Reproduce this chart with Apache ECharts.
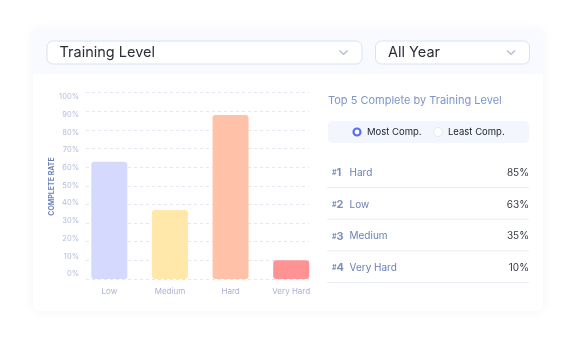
<!DOCTYPE html>
<html><head><meta charset="utf-8">
<script src="https://cdn.jsdelivr.net/npm/echarts@6/dist/echarts.min.js"></script>
<style>html,body{margin:0;padding:0;background:#fff}#c{width:576px;height:345px}</style>
</head><body><div id="c"></div>
<script>
const categories = ['Low', 'Medium', 'Hard', 'Very Hard'];
const rates = [63, 37, 88, 10];
const barColors = ['#d4d9fd', '#ffe8aa', '#ffc2a8', '#ff9394'];
const yTicks = ['0%', '10%', '20%', '30%', '40%', '50%', '60%', '70%', '80%', '90%', '100%'];
const rankNames = ['Hard', 'Low', 'Medium', 'Very Hard'];
const rankValues = ['85%', '63%', '35%', '10%'];
const filterLabels = ['Training Level', 'All Year'];
const toggleLabels = ['Most Comp.', 'Least Comp.'];
const panelTitle = 'Top 5 Complete by Training Level';
const yAxisName = 'COMPLETE RATE';

const F = 'Inter, "Noto Sans", sans-serif';
const chart = echarts.init(document.getElementById('c'), null, {renderer: 'canvas'});

const g = [];
// card
g.push({type:'rect', shape:{x:33,y:30,width:510,height:281,r:6}, style:{fill:'#fff', shadowBlur:10, shadowColor:'rgba(120,140,200,0.10)'}, z:-10});
g.push({type:'rect', shape:{x:33,y:30,width:510,height:44,r:[6,6,0,0]}, style:{fill:'#f8faff'}, z:-9});
// dropdowns
const dd = [[47,41,315,23],[375.5,41,154,23]];
dd.forEach((d,i)=>{
  g.push({type:'rect', shape:{x:d[0],y:d[1],width:d[2],height:d[3],r:6}, style:{fill:'#fff', stroke:'#d7e1f7', lineWidth:1}});
  g.push({type:'text', x:d[0]+12.5, y:d[1]+d[3]/2+0.5, style:{text:filterLabels[i], fill:'#2b2f3a', font:'400 14.5px '+F, verticalAlign:'middle'}});
  const cx = d[0]+d[2]-18.5, cy = d[1]+d[3]/2;
  g.push({type:'polyline', shape:{points:[[cx-4,cy-2],[cx,cy+2],[cx+4,cy-2]]}, style:{stroke:'#a8b7da', lineWidth:1.2, fill:null}});
});
// y axis name
g.push({type:'text', x:51.5, y:186.5, rotation:Math.PI/2, style:{text:yAxisName, fill:'#6b80b8', font:'700 7px '+F, align:'center', verticalAlign:'middle'}});
// right panel
g.push({type:'text', x:328, y:101, style:{text:panelTitle, fill:'#7d95c9', font:'400 11px '+F, verticalAlign:'middle'}});
g.push({type:'rect', shape:{x:328,y:121,width:201,height:22,r:5}, style:{fill:'#f3f6fd'}});
g.push({type:'circle', shape:{cx:357,cy:132,r:3.5}, style:{fill:'#fff', stroke:'#5a6ef5', lineWidth:2.2}});
g.push({type:'text', x:367, y:132.5, style:{text:toggleLabels[0], fill:'#222634', font:'400 9.5px '+F, verticalAlign:'middle'}});
g.push({type:'circle', shape:{cx:438,cy:132,r:4.5}, style:{fill:'#fff', stroke:'#e4e9f4', lineWidth:1}});
g.push({type:'text', x:448, y:132.5, style:{text:toggleLabels[1], fill:'#222634', font:'400 9.5px '+F, verticalAlign:'middle'}});
rankNames.forEach((n,i)=>{
  const y = 173 + i*31.7;
  g.push({type:'text', x:332, y:y, style:{rich:{h:{fill:'#7d8fbb', font:'700 7px '+F}, n:{fill:'#7d8fbb', font:'700 11px '+F}}, text:'{h|#}{n|'+(i+1)+'}', verticalAlign:'middle'}});
  g.push({type:'text', x:349.5, y:y, style:{text:n, fill:'#6c80b6', font:'400 10px '+F, verticalAlign:'middle'}});
  g.push({type:'text', x:529, y:y, style:{text:rankValues[i], fill:'#333844', font:'400 10px '+F, align:'right', verticalAlign:'middle'}});
  g.push({type:'line', shape:{x1:327,y1:y+14.5,x2:529,y2:y+14.5}, style:{stroke:'#e6ecf7', lineWidth:1}});
});

const option = {
  animation:false,
  grid:[
    {left:79, width:242.5, top:92.7, height:186.3},
    {left:86, width:223, top:92.7, height:186.3},
    {left:86, width:223, top:97, height:177}
  ],
  xAxis:[
    {type:'category', gridIndex:0, data:categories, axisLine:{show:false}, axisTick:{show:false},
     axisLabel:{color:'#a8b3d3', fontSize:8, fontFamily:F, margin:9}},
    {type:'value', gridIndex:1, show:false},
    {type:'value', gridIndex:2, show:false}
  ],
  yAxis:[
    {type:'value', gridIndex:0, min:0, max:100, show:false, splitLine:{show:false}},
    {type:'value', gridIndex:1, min:0, max:100, interval:10, axisLine:{show:false}, axisTick:{show:false}, axisLabel:{show:false},
     splitLine:{show:true, lineStyle:{color:'#e3e7f4', type:[3,3], width:1}}},
    {type:'value', gridIndex:2, min:0, max:100, interval:10, axisLine:{show:false}, axisTick:{show:false}, splitLine:{show:false},
     axisLabel:{color:'#b3bcd8', fontSize:7.5, fontFamily:F, margin:7, formatter:(v)=>yTicks[Math.round(v/10)]}}
  ],
  series:[{
    type:'bar', xAxisIndex:0, yAxisIndex:0, barWidth:36, z:3,
    data: rates.map((v,i)=>({value:v, itemStyle:{color:barColors[i], borderRadius:3}}))
  }],
  graphic: g
};
chart.setOption(option);
</script>
</body></html>
